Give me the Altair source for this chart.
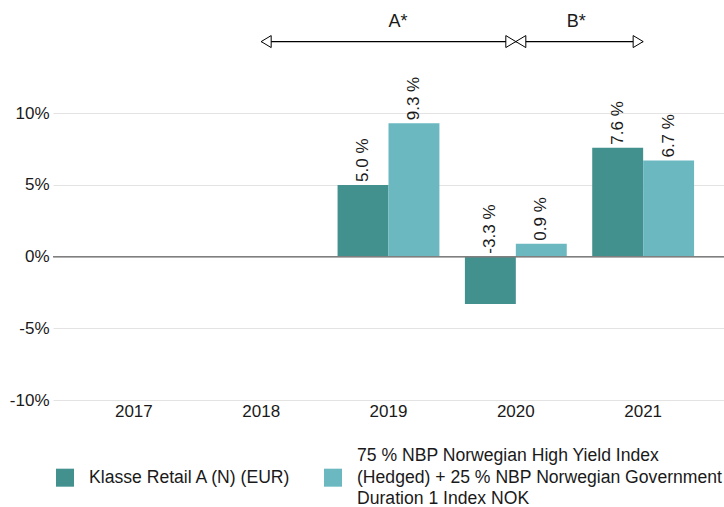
import altair as alt
import pandas as pd

years = ["2017", "2018", "2019", "2020", "2021"]
series_fund = "Klasse Retail A (N) (EUR)"
series_bench = "75 % NBP Norwegian High Yield Index\n(Hedged) + 25 % NBP Norwegian Government\nDuration 1 Index NOK"
fund_values = [None, None, 5.0, -3.3, 7.6]
bench_values = [None, None, 9.3, 0.9, 6.7]

period_labels = ["A*", "B*"]
period_start = ["2018", "2020"]
period_end = ["2020", "2021"]
period_label_year = ["2019", "2020"]
period_label_band = [0.5, 1.0]

colors = ["#42918f", "#6bb8c1"]
FONT = "Liberation Sans"
TXT = "#1a1a1a"

rows = []
for y, f, b in zip(years, fund_values, bench_values):
    if f is not None:
        rows.append({"year": y, "series": series_fund, "value": f})
    if b is not None:
        rows.append({"year": y, "series": series_bench, "value": b})
df = pd.DataFrame(rows)
df["ypos"] = df["value"].clip(lower=0)
df["label"] = df["value"].map(lambda v: f"{v:.1f} %")

xscale = alt.Scale(domain=years, paddingInner=0.2, paddingOuter=0.235)
yscale = alt.Scale(domain=[-10, 17.9], nice=False, zero=False)
order = [series_fund, series_bench]

x_enc = alt.X("year:N", scale=xscale, sort=years,
              axis=alt.Axis(title=None, labelAngle=0, domain=False, ticks=False,
                            labelPadding=3, labelFontSize=17, labelColor=TXT,
                            labelFont=FONT))

base = alt.Chart(df)

legend_label_expr = ("length(split(datum.label, '\\n')) == 1 ? ['', datum.label, ''] "
                     ": split(datum.label, '\\n')")
# square symbol, moved down by one text line so that it sits beside the middle line
legend_symbol = "M -1 1.41 L 1 1.41 L 1 3.41 L -1 3.41 Z"

bars = base.mark_bar().encode(
    x=x_enc,
    xOffset=alt.XOffset("series:N", sort=order),
    y=alt.Y("value:Q", scale=yscale,
            axis=alt.Axis(title=None, values=[-10, -5, 0, 5, 10],
                          labelExpr="datum.value + '%'", domain=False, ticks=False,
                          gridColor="#e3e3e3", labelPadding=4, labelFontSize=17,
                          labelColor=TXT, labelFont=FONT)),
    color=alt.Color("series:N", sort=order,
                    scale=alt.Scale(domain=order, range=colors),
                    legend=alt.Legend(title=None, orient="none", legendX=3, legendY=447,
                                      direction="horizontal", symbolType=legend_symbol,
                                      symbolSize=324, symbolStrokeWidth=0,
                                      labelFontSize=17.6, labelFont=FONT,
                                      labelColor=TXT, labelLimit=600,
                                      labelOffset=15, columnPadding=32, padding=0,
                                      labelExpr=legend_label_expr)),
)

labels = base.mark_text(angle=270, align="left", baseline="middle", dx=3,
                        fontSize=17, font=FONT, color=TXT).encode(
    x=alt.X("year:N", scale=xscale, sort=years),
    xOffset=alt.XOffset("series:N", sort=order),
    y=alt.Y("ypos:Q", scale=yscale),
    text="label:N",
)

zero = alt.Chart(pd.DataFrame({"v": [0]})).mark_rule(color="#7f7f7f", strokeWidth=1.5).encode(
    y=alt.Y("v:Q", scale=yscale)
)

arrows_df = pd.DataFrame({"start": period_start, "end": period_end, "lvl": [15, 15]})
arrow_lines = alt.Chart(arrows_df).mark_rule(color="black", strokeWidth=1.3).encode(
    x=alt.X("start:N", scale=xscale, sort=years, bandPosition=0.5),
    x2="end:N",
    y=alt.Y("lvl:Q", scale=yscale),
)

left_heads_df = pd.DataFrame({"year": period_start, "lvl": [15, 15]})
right_heads_df = pd.DataFrame({"year": period_end, "lvl": [15, 15]})
left_heads = alt.Chart(left_heads_df).mark_point(
    shape="M 0 0 L 1.667 -1 L 1.667 1 Z", size=144, filled=True, fill="white",
    stroke="black", strokeWidth=1, opacity=1).encode(
    x=alt.X("year:N", scale=xscale, sort=years, bandPosition=0.5),
    y=alt.Y("lvl:Q", scale=yscale),
)
right_heads = alt.Chart(right_heads_df).mark_point(
    shape="M 0 0 L -1.667 -1 L -1.667 1 Z", size=144, filled=True, fill="white",
    stroke="black", strokeWidth=1, opacity=1).encode(
    x=alt.X("year:N", scale=xscale, sort=years, bandPosition=0.5),
    y=alt.Y("lvl:Q", scale=yscale),
)

period_text_layers = []
for lab, yr, bp in zip(period_labels, period_label_year, period_label_band):
    period_text_layers.append(
        alt.Chart(pd.DataFrame({"year": [yr], "lvl": [16.4], "t": [lab]})).mark_text(
            align="left", baseline="middle", fontSize=18, font=FONT, color=TXT).encode(
            x=alt.X("year:N", scale=xscale, sort=years, bandPosition=bp),
            y=alt.Y("lvl:Q", scale=yscale),
            text="t:N",
        )
    )

chart = alt.layer(bars, zero, labels, arrow_lines, left_heads, right_heads,
                  *period_text_layers).properties(
    width=671, height=400,
    autosize=alt.AutoSizeParams(type="none"),
    padding={"left": 53, "top": 0, "right": 0, "bottom": 107},
).configure(
    font=FONT, style={"guide-label": {"lineHeight": 21.7}}
).configure_view(stroke=None, strokeWidth=0).configure_axis(domain=False, ticks=False)

chart.save("out.html", embed_options={"renderer": "svg", "actions": False})
